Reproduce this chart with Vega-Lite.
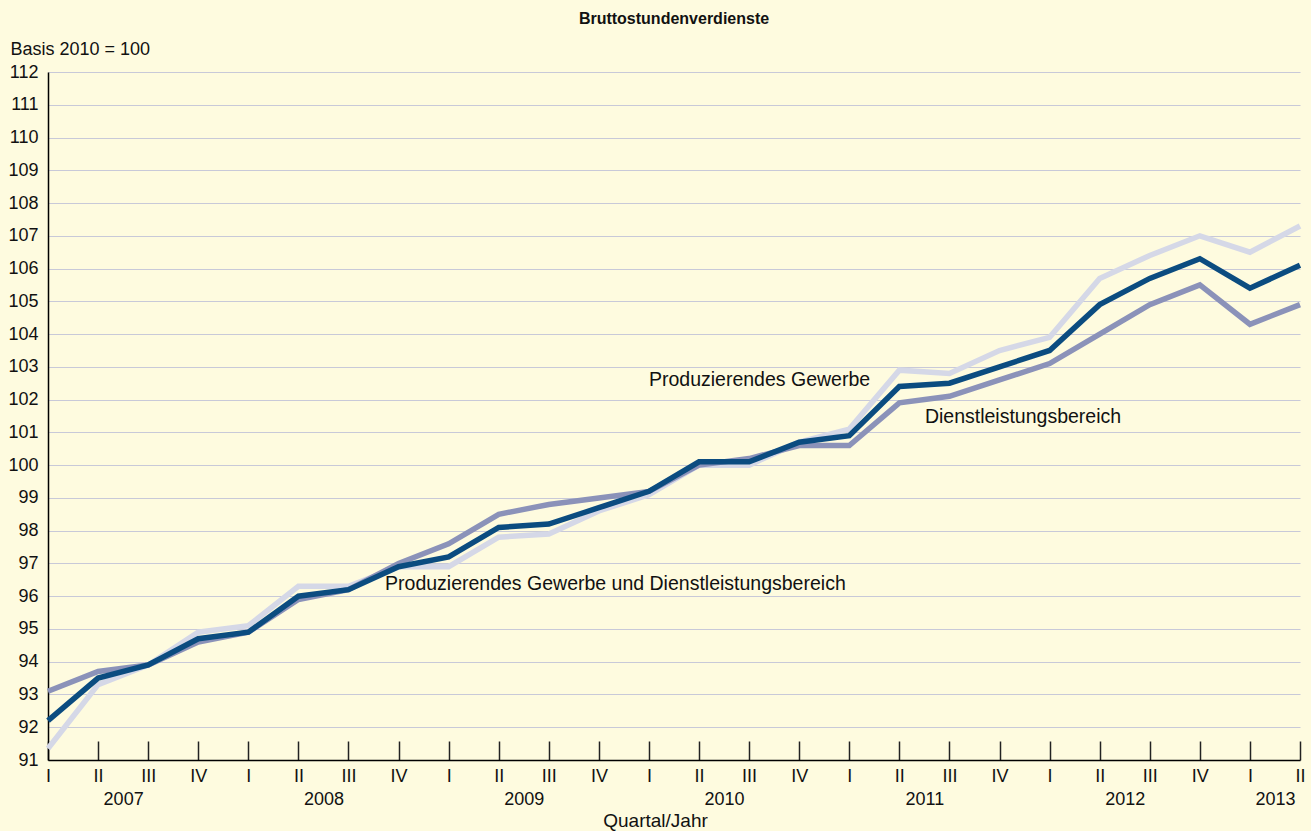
{
  "$schema": "https://vega.github.io/schema/vega-lite/v6.json",
  "width": 1252,
  "height": 688,
  "autosize": {"type": "none"},
  "padding": {"left": 48, "top": 72, "right": 11, "bottom": 71},
  "background": "#FEFBDF",
  "title": {
    "text": "Bruttostundenverdienste",
    "font": "Liberation Sans",
    "fontSize": 16,
    "fontWeight": "bold",
    "color": "#111111",
    "anchor": "middle",
    "frame": "group",
    "baseline": "alphabetic",
    "offset": 0
  },
  "config": {
    "view": {"stroke": null},
    "font": "Liberation Sans",
    "axis": {"labelFont": "Liberation Sans", "titleFont": "Liberation Sans", "labelColor": "#111111", "titleColor": "#111111"}
  },
  "resolve": {"axis": {"x": "independent"}},
  "datasets": {
    "series": [
      {"q": 0, "pg": 91.35, "dl": 93.1, "gesamt": 92.2},
      {"q": 1, "pg": 93.3, "dl": 93.7, "gesamt": 93.5},
      {"q": 2, "pg": 93.9, "dl": 93.9, "gesamt": 93.9},
      {"q": 3, "pg": 94.9, "dl": 94.6, "gesamt": 94.7},
      {"q": 4, "pg": 95.1, "dl": 94.9, "gesamt": 94.9},
      {"q": 5, "pg": 96.3, "dl": 95.9, "gesamt": 96.0},
      {"q": 6, "pg": 96.3, "dl": 96.2, "gesamt": 96.2},
      {"q": 7, "pg": 96.9, "dl": 97.0, "gesamt": 96.9},
      {"q": 8, "pg": 96.9, "dl": 97.6, "gesamt": 97.2},
      {"q": 9, "pg": 97.8, "dl": 98.5, "gesamt": 98.1},
      {"q": 10, "pg": 97.9, "dl": 98.8, "gesamt": 98.2},
      {"q": 11, "pg": 98.6, "dl": 99.0, "gesamt": 98.7},
      {"q": 12, "pg": 99.1, "dl": 99.2, "gesamt": 99.2},
      {"q": 13, "pg": 100.0, "dl": 100.0, "gesamt": 100.1},
      {"q": 14, "pg": 100.0, "dl": 100.2, "gesamt": 100.1},
      {"q": 15, "pg": 100.7, "dl": 100.6, "gesamt": 100.7},
      {"q": 16, "pg": 101.1, "dl": 100.6, "gesamt": 100.9},
      {"q": 17, "pg": 102.9, "dl": 101.9, "gesamt": 102.4},
      {"q": 18, "pg": 102.8, "dl": 102.1, "gesamt": 102.5},
      {"q": 19, "pg": 103.5, "dl": 102.6, "gesamt": 103.0},
      {"q": 20, "pg": 103.9, "dl": 103.1, "gesamt": 103.5},
      {"q": 21, "pg": 105.7, "dl": 104.0, "gesamt": 104.9},
      {"q": 22, "pg": 106.4, "dl": 104.9, "gesamt": 105.7},
      {"q": 23, "pg": 107.0, "dl": 105.5, "gesamt": 106.3},
      {"q": 24, "pg": 106.5, "dl": 104.3, "gesamt": 105.4},
      {"q": 25, "pg": 107.3, "dl": 104.9, "gesamt": 106.1}
    ],
    "labels": [
      {"label": "Produzierendes Gewerbe", "q": 12.0, "wert": 102.6},
      {"label": "Dienstleistungsbereich", "q": 17.51, "wert": 101.47},
      {"label": "Produzierendes Gewerbe und Dienstleistungsbereich", "q": 6.73, "wert": 96.37}
    ]
  },
  "encoding": {
    "y": {
      "field": "wert",
      "type": "quantitative",
      "scale": {"domain": [91, 112], "nice": false, "zero": false},
      "axis": {
        "values": [91,92,93,94,95,96,97,98,99,100,101,102,103,104,105,106,107,108,109,110,111,112],
        "grid": true,
        "gridColor": "#C8C9D8",
        "gridWidth": 1.2,
        "ticks": false,
        "domainColor": "#000000",
        "domainWidth": 1.5,
        "labelFontSize": 18,
        "labelPadding": 10,
        "labelOverlap": false,
        "labelFlush": false,
        "title": "Basis 2010 = 100",
        "titleAngle": 0,
        "titleAlign": "left",
        "titleBaseline": "alphabetic",
        "titleFontSize": 18,
        "titleFontWeight": "normal",
        "titleX": -38,
        "titleY": -18
      }
    }
  },
  "layer": [
    {
      "data": {"name": "series"},
      "transform": [{"fold": ["pg", "dl", "gesamt"], "as": ["reihe", "wert"]}],
      "mark": {"type": "line", "strokeWidth": 5.5, "strokeJoin": "miter"},
      "encoding": {
        "x": {
          "field": "q",
          "type": "quantitative",
          "scale": {"domain": [0, 25], "nice": false, "zero": false},
          "axis": {
            "orient": "bottom",
            "values": [0,1,2,3,4,5,6,7,8,9,10,11,12,13,14,15,16,17,18,19,20,21,22,23,24,25],
            "labelExpr": "['I','II','III','IV'][datum.value % 4]",
            "labelFlush": false,
            "labelOverlap": false,
            "labelFontSize": 18,
            "labelPadding": 26,
            "tickSize": -19,
            "tickColor": "#222222",
            "tickWidth": 1.5,
            "domainColor": "#000000",
            "domainWidth": 1.5,
            "grid": false,
            "title": null
          }
        },
        "color": {
          "field": "reihe",
          "type": "nominal",
          "scale": {"domain": ["pg", "dl", "gesamt"], "range": ["#D5D8E7", "#8B92B9", "#0B4C80"]},
          "legend": null
        }
      }
    },
    {
      "data": {"name": "labels"},
      "mark": {"type": "text", "align": "left", "baseline": "middle", "fontSize": 19.5, "font": "Liberation Sans", "color": "#111111"},
      "encoding": {
        "x": {
          "field": "q",
          "type": "quantitative",
          "axis": {
            "orient": "bottom",
            "values": [1.5, 5.5, 9.5, 13.5, 17.5, 21.5, 24.5],
            "labelExpr": "toString(2007 + floor(datum.value / 4))",
            "labelFlush": false,
            "labelOverlap": false,
            "labelFontSize": 18,
            "labelPadding": 30,
            "ticks": false,
            "domain": false,
            "grid": false,
            "title": "Quartal/Jahr",
            "titleFontSize": 19,
            "titleFontWeight": "normal",
            "titleAlign": "center",
            "titleBaseline": "alphabetic",
            "titleX": 607,
            "titleY": 66
          }
        },
        "text": {"field": "label"}
      }
    }
  ]
}
